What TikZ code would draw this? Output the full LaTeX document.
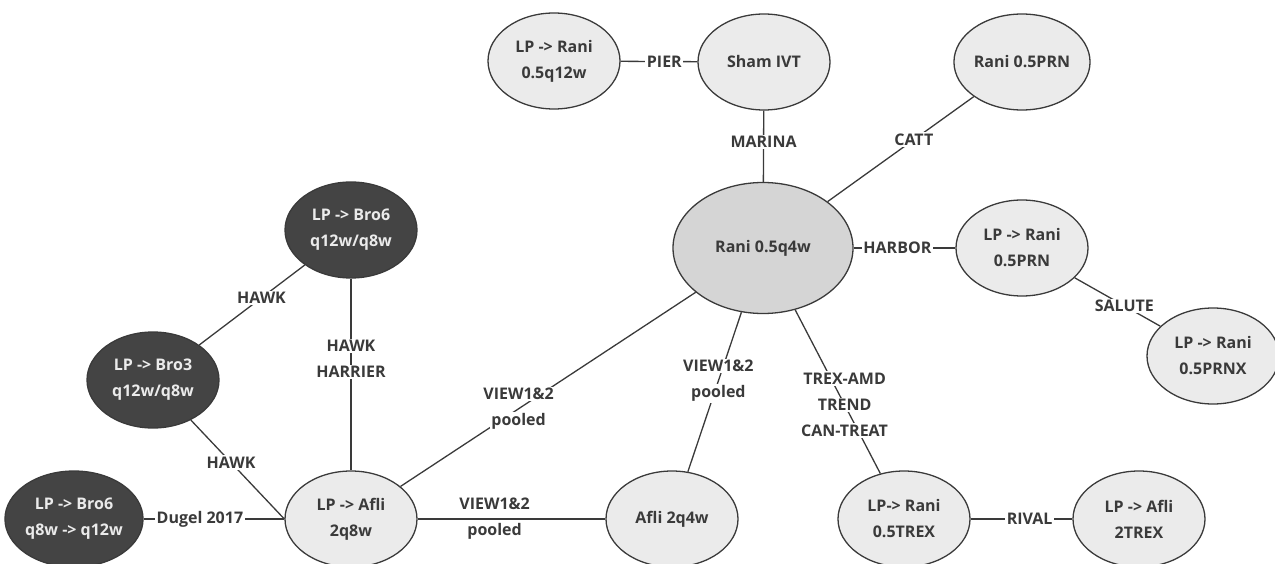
\documentclass[tikz,border=0pt]{standalone}
\usepackage{fontspec}
\setmainfont{Open Sans}
\usetikzlibrary{shapes.geometric}
\definecolor{ink}{HTML}{3A3A3A}
\definecolor{darkfill}{HTML}{444444}
\definecolor{lightfill}{HTML}{EBEBEB}
\definecolor{midfill}{HTML}{D5D5D5}
\newcommand{\wb}[1]{{\setlength{\fboxsep}{1.5pt}\colorbox{white}{#1}}}

\tikzset{
	trial/.style={ellipse, draw=ink, line width=1.3pt, fill=lightfill, text=ink,
		minimum width=132pt, minimum height=96pt, inner sep=0pt, align=center,
		font=\fontsize{16}{26}\selectfont\bfseries},
	darktrial/.style={trial, fill=darkfill, text=white!92!black},
	bigtrial/.style={trial, fill=midfill, minimum width=180pt, minimum height=131pt},
	link/.style={draw=ink, line width=1.3pt},
	lbl/.style={text=ink, align=center, inner sep=0pt, font=\fontsize{16}{26}\selectfont\bfseries}
}

\begin{document}
\begin{tikzpicture}[x=1pt, y=-1pt]
	\useasboundingbox (0,0) rectangle (1275,564);

	% ranibizumab side
		\node[trial]    (R12)  at (554,61)   {LP -> Rani\\0.5q12w};
		\node[trial]    (Sham) at (764,62)   {Sham IVT};
		\node[trial]    (PRN)  at (1022,62)  {Rani 0.5PRN};
		\node[bigtrial] (Q4w)  at (763,248)  {Rani 0.5q4w};
		\node[trial]    (LPRN) at (1022,248) {LP -> Rani\\0.5PRN};
		\node[trial]    (PRNX) at (1213,356) {LP -> Rani\\0.5PRNX};

	% brolucizumab / aflibercept side
		\node[darktrial] (Bro6a) at (351,230) {LP -> Bro6\\q12w/q8w};
		\node[darktrial] (Bro3)  at (153,380) {LP -> Bro3\\q12w/q8w};
		\node[darktrial] (Bro6b) at (74,519)  {LP -> Bro6\\q8w -> q12w};
		\node[trial]     (Afli8) at (351,519) {LP -> Afli\\2q8w};
		\node[trial]     (Afli4) at (672,519) {Afli 2q4w};
		\node[trial]     (TREX)  at (904,519) {LP-> Rani\\0.5TREX};
		\node[trial]     (ATREX) at (1139,519) {LP -> Afli\\2TREX};

		\draw[link] (R12) -- node[lbl, pos=0.57] {\wb{PIER}} (Sham);
		\draw[link] (Sham) -- node[lbl, pos=0.44] {\wb{MARINA}} (Q4w);
		\draw[link] (Q4w) -- node[lbl, pos=0.59] {\wb{CATT}} (PRN);
		\draw[link] (Q4w) -- node[lbl, pos=0.43] {\wb{HARBOR}} (LPRN);
		\draw[link] (LPRN) -- node[lbl, pos=0.58] {\wb{SALUTE}} (PRNX);
		\draw[link] (Q4w) -- node[lbl, pos=0.58] {\wb{TREX-AMD}\\\wb{TREND}\\\wb{CAN-TREAT}} (TREX);
		\draw[link] (TREX) -- node[lbl, pos=0.58] {\wb{RIVAL}} (ATREX);
		\draw[link] (Q4w) -- node[lbl, pos=0.43] {\wb{VIEW1\&2}\\\wb{pooled}} (Afli4);
		\draw[link] (Afli8) -- node[lbl, pos=0.4] {\wb{VIEW1\&2}\\\wb{pooled}} (Q4w);
		\draw[link] (Afli8) -- node[lbl, pos=0.41] {\wb{VIEW1\&2}\\\wb{pooled}} (Afli4);
		\draw[link] (Bro6b) -- node[lbl, pos=0.4] {\wb{Dugel 2017}} (Afli8);
		\draw[link] (Bro6a) -- node[lbl, pos=0.41] {\wb{HAWK}} (Bro3);
		\draw[link] (Bro6a) -- node[lbl, pos=0.42] {\wb{HAWK}\\\wb{HARRIER}} (Afli8);
		\draw[link] (Bro3) -- node[lbl, pos=0.43] {\wb{HAWK}} (Afli8.west);
\end{tikzpicture}
\end{document}
